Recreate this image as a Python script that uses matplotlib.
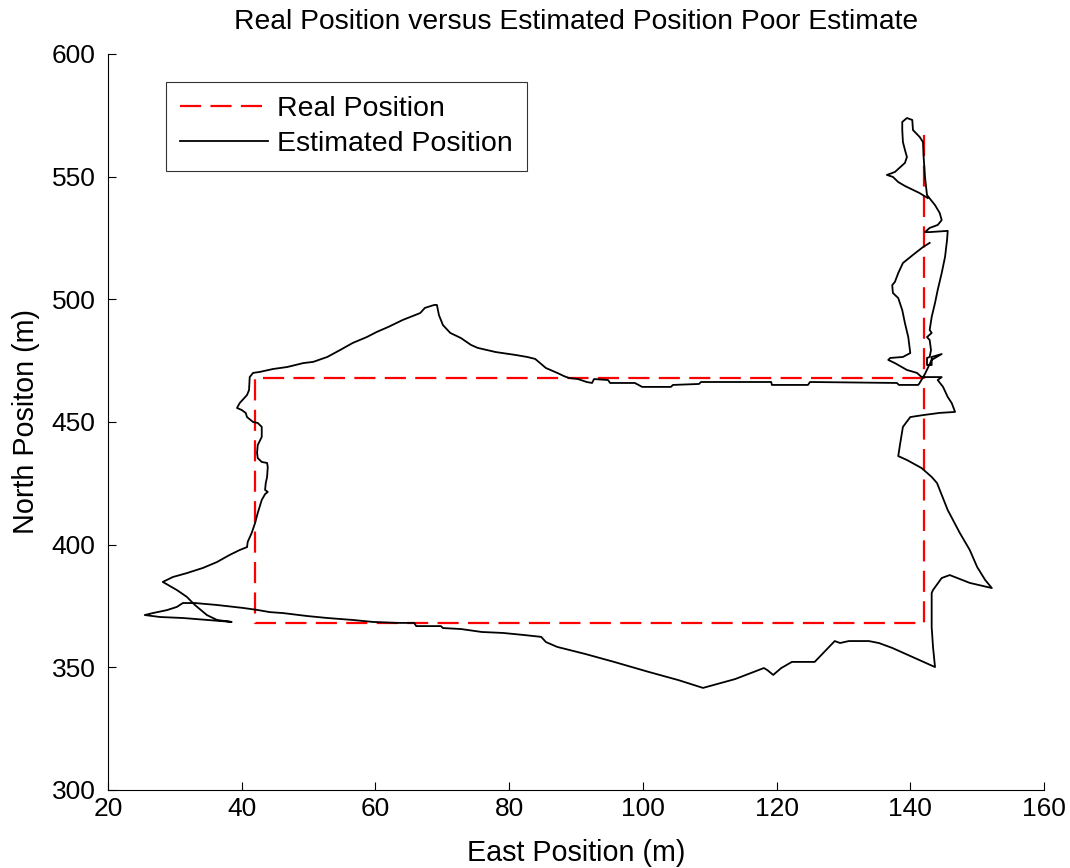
import matplotlib
matplotlib.use("Agg")
import matplotlib.pyplot as plt

plt.rcParams['font.family'] = ['Liberation Sans', 'DejaVu Sans']

# reference route (m)
real_east = [142, 142, 42, 42, 142, 142]
real_north = [567, 468, 468, 368, 368, 468]

# estimated track (m)
est_east = [
    142.6, 141.4, 140.4, 139.2, 138.2, 137.4, 136.5, 137.7, 138.5, 139.2,
    139.5, 139.2, 138.9, 138.8, 138.8, 139.5, 140.3, 140.4, 141.4, 141.9,
    142.0, 142.2, 142.5, 143.7, 144.4, 144.7, 144.1, 142.9, 142.2, 142.9,
    145.6, 145.5, 145.2, 144.7, 144.1, 143.7, 143.2, 142.9, 143.2, 142.5,
    142.9, 143.1, 142.9, 142.5, 142.5, 143.2, 143.2, 144.7, 143.2, 142.2,
    141.4, 141.2,
    138.3, 138.0, 125.0, 124.7, 119.3, 119.2, 108.7, 108.4, 104.5, 104.2,
    99.9, 98.8, 95.1, 94.8, 92.7, 92.4, 91.6, 90.3, 89.0, 88.2,
    87.2, 85.5, 83.9, 82.7, 81.0, 78.0, 75.3, 74.3, 72.8, 71.2,
    70.1, 69.5, 69.2, 68.8, 67.4, 66.7, 64.1, 61.9, 60.2, 58.7,
    56.6, 54.7, 52.8, 50.7, 49.2, 46.8, 44.7, 42.7, 41.7, 41.2,
    41.1, 40.8, 39.7, 39.3, 40.0, 40.6, 40.8, 41.7, 42.4, 43.0,
    43.0, 42.4, 42.3, 42.4, 43.0, 43.8, 43.9, 43.8, 43.6, 43.5,
    43.9, 43.5, 43.0, 42.4, 42.0, 41.5, 40.9, 40.8, 39.7, 38.2,
    36.3, 34.2, 31.8, 29.7, 28.2,
    30.3, 31.8, 33.0, 34.8, 36.3, 38.5, 34.8, 31.2, 27.8, 25.5,
    26.7, 28.8, 30.3, 31.2,
    33.0, 36.3, 40.2, 42.3, 44.2, 46.2, 49.8, 52.8, 56.6, 59.6,
    63.2, 65.8, 66.1, 69.8, 70.1, 72.8, 75.9, 79.1, 82.1, 84.8,
    85.5, 87.2, 91.3, 95.7, 100.9, 105.3, 109.0, 110.6, 113.8, 118.1,
    118.6, 119.5, 120.7, 122.3, 125.7, 128.7, 129.5, 130.8, 133.8, 135.3,
    137.3, 140.0, 143.7,
    143.4, 143.2, 143.2, 143.4, 144.7, 145.9, 148.9, 152.2, 151.2, 150.0,
    148.9, 147.4, 145.6, 144.0, 143.2, 141.7, 139.5, 138.2, 138.5, 138.9,
    140.0, 141.9, 144.4, 146.7, 146.2, 145.6, 144.9, 144.1, 144.7, 141.7,
    141.0, 139.5, 137.7, 136.7, 137.0, 138.9, 140.0, 139.7, 139.2, 138.8,
    138.2, 137.4, 137.3, 137.7, 138.2, 138.9, 140.4, 141.9, 142.9,
]
est_north = [
    541.3, 543.3, 544.6, 546.2, 547.8, 549.9, 550.7, 551.9, 553.9, 555.6,
    558.0, 560.9, 564.1, 569.0, 572.3, 573.9, 573.1, 569.0, 566.2, 564.1,
    558.0, 549.9, 542.5, 538.4, 535.2, 532.3, 530.3, 529.1, 527.4, 527.4,
    527.9, 524.2, 517.3, 510.7, 503.8, 498.5, 492.8, 487.5, 486.3, 484.6,
    483.4, 479.3, 476.5, 476.1, 473.2, 473.2, 476.5, 477.7, 475.3, 469.6,
    465.9, 465.1,
    465.1, 465.9, 466.3, 465.1, 465.1, 466.3, 466.3, 465.5, 465.1, 464.3,
    464.3, 465.9, 465.9, 467.1, 467.5, 465.9, 466.3, 467.5, 467.9, 468.7,
    470.0, 472.0, 475.7, 476.5, 477.3, 478.5, 480.2, 481.4, 484.2, 486.3,
    489.5, 493.6, 497.7, 497.7, 496.5, 494.4, 491.6, 488.7, 486.7, 484.6,
    482.2, 479.3, 476.5, 474.5, 474.0, 472.4, 471.6, 470.4, 470.0, 468.3,
    463.0, 461.0, 457.7, 455.7, 454.9, 453.7, 452.0, 450.0, 449.6, 448.0,
    443.9, 440.6, 437.4, 435.3, 433.7, 433.3, 431.6, 427.6, 425.1, 422.3,
    421.5, 420.6, 418.2, 412.9, 408.8, 404.8, 401.1, 399.0, 397.8, 395.8,
    392.9, 390.5, 388.4, 386.8, 384.8,
    381.5, 378.7, 375.4, 371.3, 369.3, 368.5, 369.3, 370.1, 370.5, 371.3,
    372.1, 373.3, 374.6, 376.2,
    376.2, 375.4, 374.2, 373.4, 372.5, 372.1, 370.9, 370.1, 369.3, 368.5,
    368.1, 368.1, 366.8, 366.8, 366.0, 365.6, 364.4, 364.0, 363.2, 362.4,
    360.3, 358.3, 355.5, 352.2, 348.1, 344.8, 341.6, 342.8, 345.2, 349.7,
    348.9, 346.9, 349.7, 352.2, 352.2, 360.7, 359.9, 360.7, 360.7, 359.9,
    357.9, 354.6, 350.1,
    358.3, 366.4, 380.3, 381.5, 386.4, 387.6, 384.4, 382.3, 385.6, 390.9,
    397.8, 404.8, 414.1, 425.1, 427.6, 431.2, 434.5, 436.1, 441.4, 448.0,
    452.0, 452.8, 453.7, 454.1, 457.7, 460.2, 464.3, 467.1, 468.3, 468.3,
    470.0, 471.2, 474.0, 475.3, 476.1, 476.5, 478.1, 484.6, 490.3, 495.6,
    500.5, 502.6, 505.8, 507.1, 510.7, 514.8, 518.1, 521.3, 523.0,
]

fig = plt.figure(figsize=(10.7, 8.68), dpi=100)
ax = fig.add_axes([0.1009, 0.0899, 0.8748, 0.8479])

ax.plot(real_east, real_north, color='red', linestyle='--', linewidth=1.6,
        dashes=(9.5, 4.2), label='Real Position')
ax.plot(est_east, est_north, color='black', linewidth=1.3,
        label='Estimated Position')

ax.set_xlim(20, 160)
ax.set_ylim(300, 600)
ax.set_xticks(range(20, 161, 20))
ax.set_yticks(range(300, 601, 50))

ax.spines['top'].set_visible(False)
ax.spines['right'].set_visible(False)
ax.tick_params(direction='in', length=6, width=0.8, labelsize=19)
ax.tick_params(axis='y', pad=9)
ax.tick_params(axis='x', pad=5)

ax.set_title('Real Position versus Estimated Position Poor Estimate',
             fontsize=20.3, pad=18)
ax.set_xlabel('East Position (m)', fontsize=20.7, labelpad=13)
ax.set_ylabel('North Positon (m)', fontsize=20.7, labelpad=8)

leg = ax.legend(loc='upper left', bbox_to_anchor=(0.062, 0.962),
                borderaxespad=0, fontsize=20.5, handlelength=3.1,
                frameon=True, fancybox=False, edgecolor='black',
                borderpad=0.5, labelspacing=0.3, handletextpad=0.3)
leg.get_frame().set_linewidth(0.8)

fig.savefig('out.png', dpi=100)
